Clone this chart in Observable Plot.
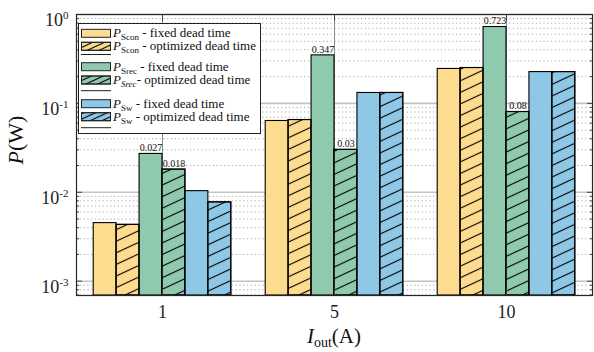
<!DOCTYPE html>
<html>
<head>
<meta charset="utf-8">
<script src="https://cdn.jsdelivr.net/npm/d3@7"></script>
<script src="https://cdn.jsdelivr.net/npm/@observablehq/plot@0.6"></script>
<style>
  html, body { margin: 0; padding: 0; background: white; }
  svg, svg text { font-family: "Liberation Serif", "DejaVu Serif", serif !important; }
</style>
</head>
<body>
<div id="chart"></div>
<script>
// ---- data ----
const categories = ["1", "5", "10"];
const seriesNames = ["PScon fixed", "PScon optimized", "PSrec fixed", "PSrec optimized", "PSw fixed", "PSw optimized"];
const sconFixed = [0.0045, 0.0634, 0.244];
const sconOpt   = [0.0043, 0.065, 0.25];
const srecFixed = [0.027, 0.347, 0.723];
const srecOpt   = [0.018, 0.03, 0.08];
const swFixed   = [0.0103, 0.131, 0.225];
const swOpt     = [0.0077, 0.131, 0.225];
const seriesColors = ["#FEDC8F", "#FEDC8F", "#8FC9AE", "#8FC9AE", "#8EC8E6", "#8EC8E6"];
const seriesHatched = [false, true, false, true, false, true];
const labeledSeries = [2, 3];
const yTicks = [1e-3, 1e-2, 1e-1, 1];

const seriesValues = [sconFixed, sconOpt, srecFixed, srecOpt, swFixed, swOpt];
const yMin = 0.00069;
const groupWidth = 0.8;
const nS = seriesValues.length;
const bw = groupWidth / nS;

const rows = [];
categories.forEach((c, gi) => {
  seriesValues.forEach((vals, si) => {
    const x1 = gi - groupWidth / 2 + si * bw;
    rows.push({group: c, series: seriesNames[si], value: vals[gi], x1, x2: x1 + bw, xc: x1 + bw / 2,
               fill: seriesColors[si], hatch: seriesHatched[si], labeled: labeledSeries.includes(si)});
  });
});

const minorTicks = [];
for (let e = -4; e <= -1; e++) for (let m = 2; m <= 9; m++) {
  const v = m * Math.pow(10, e);
  if (v >= yMin && v <= 1) minorTicks.push(v);
}

const W = 594, H = 352;
const chart = Plot.plot({
  width: W, height: H,
  marginLeft: 76, marginRight: 2, marginTop: 14, marginBottom: 57,
  style: {fontFamily: "'Liberation Serif', serif", fontSize: "17px", background: "white", color: "black"},
  x: {type: "linear", domain: [-0.5, 2.5]},
  y: {type: "log", domain: [yMin, 1]},
  color: {type: "identity"},
  marks: [
    Plot.gridY({ticks: minorTicks, stroke: "#a8a8a8", strokeOpacity: 1, strokeDasharray: "1.2,2.6"}),
    Plot.gridY({ticks: yTicks, stroke: "#c4c4c4", strokeOpacity: 1, strokeWidth: 1.6}),
    Plot.gridX({ticks: [0, 1, 2], stroke: "#8a8a8a", strokeOpacity: 1, strokeWidth: 1}),
    Plot.rectY(rows, {x1: "x1", x2: "x2", y1: yMin, y2: "value", fill: "fill", stroke: "black", strokeWidth: 1.1}),
    Plot.rectY(rows.filter(d => d.hatch), {x1: "x1", x2: "x2", y1: yMin, y2: "value", fill: "url(#hatch)", stroke: "black", strokeWidth: 1.1}),
    Plot.text(rows.filter(d => d.labeled), {x: "xc", y: "value", text: d => String(d.value), dy: -6, fontSize: 10, fill: "#111"}),
    Plot.axisY({ticks: minorTicks, anchor: "left", tickSize: -3, tickFormat: () => "", label: null, stroke: "#444"}),
    Plot.axisY({ticks: minorTicks, anchor: "right", tickSize: -3, tickFormat: () => "", label: null, stroke: "#444"}),
    Plot.axisY({ticks: yTicks, anchor: "right", tickSize: -6, tickFormat: () => "", label: null, stroke: "#444"}),
    Plot.axisY({ticks: yTicks, anchor: "left", tickSize: -6, tickPadding: 14, label: null, fontSize: 18,
                tickFormat: d => String(Math.round(Math.log10(d))), stroke: "#444", fill: "#222"}),
    Plot.axisX({ticks: [0, 1, 2], anchor: "bottom", tickSize: -6, tickPadding: 16, label: null, fontSize: 18,
                tickFormat: i => categories[i], stroke: "#444", fill: "#222"}),
    Plot.axisX({ticks: [0, 1, 2], anchor: "top", tickSize: -6, tickFormat: () => "", label: null, stroke: "#444"}),
    Plot.frame({stroke: "#262626", strokeWidth: 1.2})
  ]
});

document.getElementById("chart").appendChild(chart);
const svg = d3.select(chart);

// remove empty tick texts
svg.selectAll("text").each(function() {
  if (this.textContent === "") this.remove();
});

// patterns
const defs = svg.insert("defs", ":first-child");
function hatchPattern(id, spacing) {
  const p = defs.append("pattern").attr("id", id).attr("patternUnits", "userSpaceOnUse")
    .attr("width", 20).attr("height", spacing).attr("patternTransform", "rotate(-25)");
  p.append("line").attr("x1", 0).attr("x2", 20).attr("y1", spacing / 2).attr("y2", spacing / 2)
    .attr("stroke", "black").attr("stroke-width", 1.1);
}
hatchPattern("hatch", 10.5);
hatchPattern("hatchSmall", 5);

// superscript y tick labels
svg.selectAll('g[aria-label="y-axis tick label"] text').each(function() {
  const t = d3.select(this);
  const ex = t.text();
  t.text("");
  t.append("tspan").attr("dy", 6).text("10");
  t.append("tspan").attr("dy", -7).attr("font-size", 11).text(ex);
});

// axis titles
const ytitle = svg.append("text").attr("transform", "translate(23,140) rotate(-90)")
  .attr("text-anchor", "middle").attr("font-size", 22).attr("fill", "#111");
ytitle.append("tspan").attr("font-style", "italic").text("P");
ytitle.append("tspan").text("(W)");

const xtitle = svg.append("text").attr("x", 334).attr("y", 343)
  .attr("text-anchor", "middle").attr("font-size", 21).attr("fill", "#111");
xtitle.append("tspan").attr("font-style", "italic").text("I");
xtitle.append("tspan").attr("font-size", 14).attr("dy", 4).text("out");
xtitle.append("tspan").attr("dy", -4).text("(A)");

// legend
const lg = svg.append("g").attr("text-anchor", "start");
lg.append("rect").attr("x", 78.5).attr("y", 23.5).attr("width", 182).attr("height", 110)
  .attr("fill", "white").attr("stroke", "#222").attr("stroke-width", 1);
const legendItems = [
  {y: 33.3, sub: "Scon", subItalic: false, rest: " - fixed dead time", si: 0},
  {y: 46.3, sub: "Scon", subItalic: false, rest: " - optimized dead time", si: 1},
  {y: 66.7, sub: "Srec", subItalic: false, rest: " - fixed dead time", si: 2},
  {y: 80.0, sub: "Srec", subItalic: true, rest: "- optimized dead time", si: 3},
  {y: 103.7, sub: "Sw", subItalic: false, rest: " - fixed dead time", si: 4},
  {y: 116.7, sub: "Sw", subItalic: false, rest: " - optimized dead time", si: 5}
];
legendItems.forEach(it => {
  lg.append("rect").attr("x", 81.5).attr("y", it.y - 4).attr("width", 29).attr("height", 8)
    .attr("fill", seriesColors[it.si]).attr("stroke", "#222").attr("stroke-width", 1);
  if (seriesHatched[it.si]) {
    lg.append("rect").attr("x", 81.5).attr("y", it.y - 4).attr("width", 29).attr("height", 8)
      .attr("fill", "url(#hatchSmall)").attr("stroke", "#222").attr("stroke-width", 1);
  }
  const t = lg.append("text").attr("x", 113).attr("y", it.y + 4).attr("font-size", 13)
    .attr("text-anchor", "start").attr("fill", "#111").style("white-space", "pre");
  t.append("tspan").attr("font-style", "italic").text("P");
  t.append("tspan").attr("font-size", 9).attr("dy", 3).attr("font-style", it.subItalic ? "italic" : "normal").text(it.sub);
  t.append("tspan").attr("dy", -3).text(it.rest);
});
[54.5, 90.7, 127.7].forEach(y => {
  lg.append("line").attr("x1", 81).attr("x2", 111).attr("y1", y).attr("y2", y)
    .attr("stroke", "#222").attr("stroke-width", 1);
});
</script>
</body>
</html>
